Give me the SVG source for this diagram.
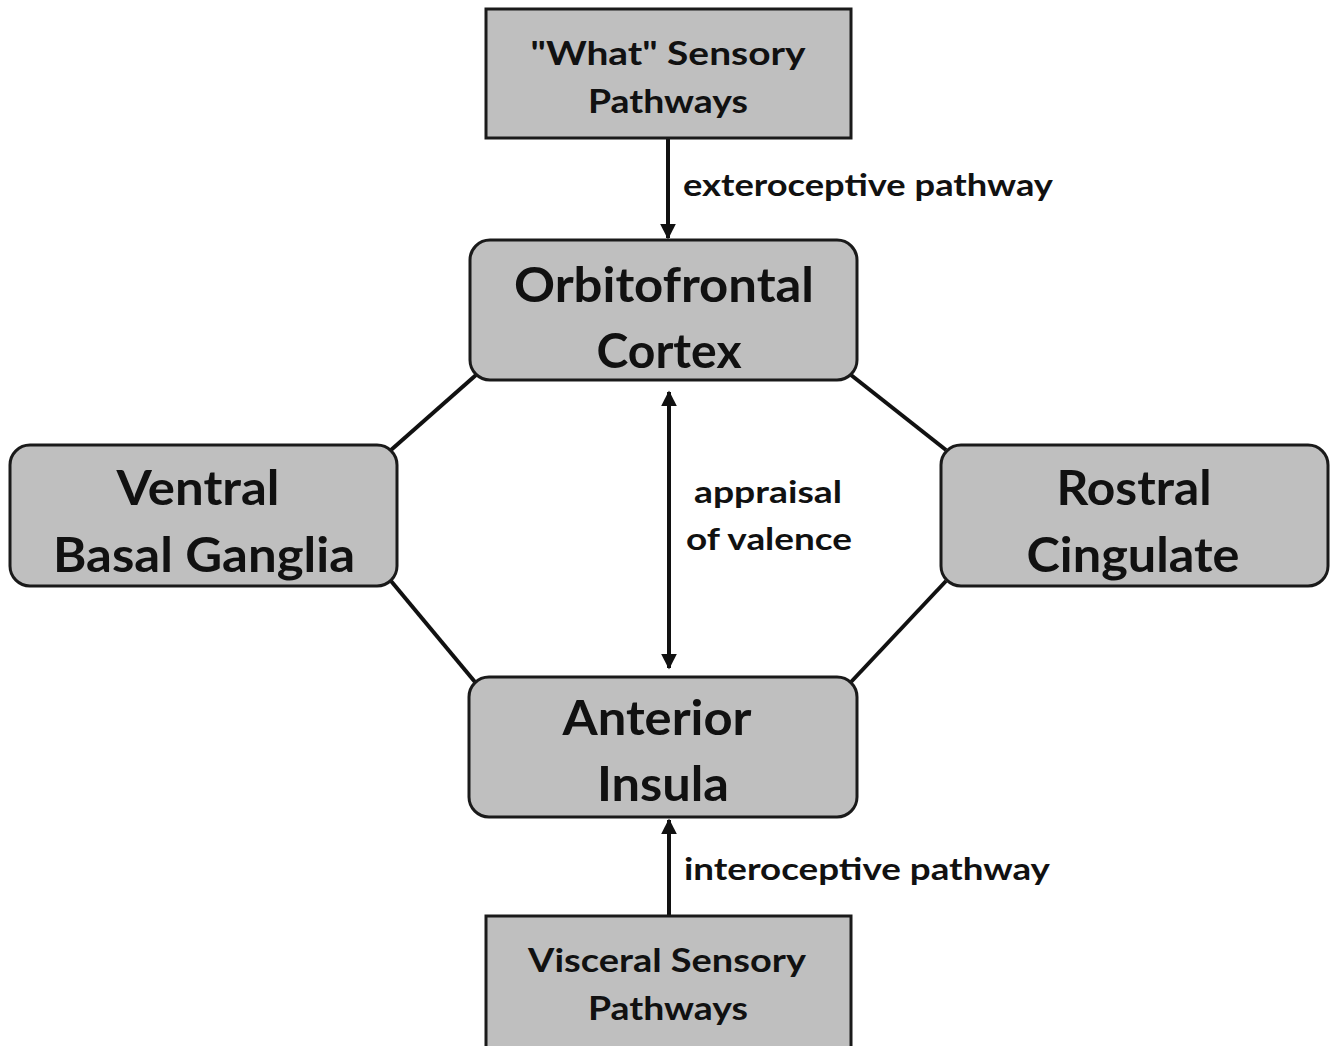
<svg xmlns="http://www.w3.org/2000/svg" width="1336" height="1046" viewBox="0 0 1336 1046">
<style>
.box{fill:#bfbfbf;stroke:#1a1a1a;stroke-width:3}
.big{font-family:Lato,"Open Sans",sans-serif;font-weight:bold;font-size:48px;fill:#111;text-anchor:middle}
.mid{font-family:Lato,"Open Sans",sans-serif;font-weight:bold;font-size:33px;fill:#111;text-anchor:middle}
.lab{font-family:Lato,"Open Sans",sans-serif;font-weight:bold;font-size:30px;fill:#111}
.edge{stroke:#111;stroke-width:4;fill:none}
</style>
<defs>
<marker id="ah" viewBox="0 0 10 10" refX="9" refY="5" markerWidth="4" markerHeight="4.5" orient="auto-start-reverse" markerUnits="strokeWidth">
<path d="M0,0 L10,5 L0,10 z" fill="#111"/>
</marker>
</defs>
<rect width="1336" height="1046" fill="#fff"/>
<g id="connectors">
<line class="edge" x1="476" y1="375" x2="391" y2="450"/>
<line class="edge" x1="851" y1="375" x2="946" y2="450"/>
<line class="edge" x1="391" y1="581" x2="475" y2="682"/>
<line class="edge" x1="946" y1="581" x2="851" y2="682"/>
<line class="edge" x1="668" y1="139" x2="668" y2="238" marker-end="url(#ah)"/>
<line class="edge" x1="669" y1="392" x2="669" y2="668" marker-start="url(#ah)" marker-end="url(#ah)"/>
<line class="edge" x1="669" y1="916" x2="669" y2="820" marker-end="url(#ah)"/>
<text class="lab" x="683" y="196" textLength="370" lengthAdjust="spacingAndGlyphs">exteroceptive pathway</text>
<text class="lab" x="768" y="503" text-anchor="middle" textLength="148" lengthAdjust="spacingAndGlyphs">appraisal</text>
<text class="lab" x="769" y="550" text-anchor="middle" textLength="166" lengthAdjust="spacingAndGlyphs">of valence</text>
<text class="lab" x="684" y="880" textLength="366" lengthAdjust="spacingAndGlyphs">interoceptive pathway</text>
</g>
<g id="what">
<rect class="box" x="486" y="9" width="365" height="129"/>
<text class="mid" x="668" y="65" textLength="275" lengthAdjust="spacingAndGlyphs">"What" Sensory</text>
<text class="mid" x="668" y="113" textLength="160" lengthAdjust="spacingAndGlyphs">Pathways</text>
</g>
<g id="ofc">
<rect class="box" x="470" y="240" width="387" height="140" rx="20"/>
<text class="big" x="664" y="302" textLength="300" lengthAdjust="spacingAndGlyphs">Orbitofrontal</text>
<text class="big" x="669" y="368" textLength="145" lengthAdjust="spacingAndGlyphs">Cortex</text>
</g>
<g id="vbg">
<rect class="box" x="10" y="445" width="387" height="141" rx="20"/>
<text class="big" x="198" y="505" textLength="163" lengthAdjust="spacingAndGlyphs">Ventral</text>
<text class="big" x="204" y="572" textLength="302" lengthAdjust="spacingAndGlyphs">Basal Ganglia</text>
</g>
<g id="rc">
<rect class="box" x="941" y="445" width="387" height="141" rx="20"/>
<text class="big" x="1134" y="505" textLength="155" lengthAdjust="spacingAndGlyphs">Rostral</text>
<text class="big" x="1133" y="572" textLength="213" lengthAdjust="spacingAndGlyphs">Cingulate</text>
</g>
<g id="ai">
<rect class="box" x="469" y="677" width="388" height="140" rx="20"/>
<text class="big" x="657" y="735" textLength="189" lengthAdjust="spacingAndGlyphs">Anterior</text>
<text class="big" x="663" y="801" textLength="132" lengthAdjust="spacingAndGlyphs">Insula</text>
</g>
<g id="visceral">
<rect class="box" x="486" y="916" width="365" height="140"/>
<text class="mid" x="667" y="972" textLength="278" lengthAdjust="spacingAndGlyphs">Visceral Sensory</text>
<text class="mid" x="668" y="1020" textLength="160" lengthAdjust="spacingAndGlyphs">Pathways</text>
</g>
</svg>
